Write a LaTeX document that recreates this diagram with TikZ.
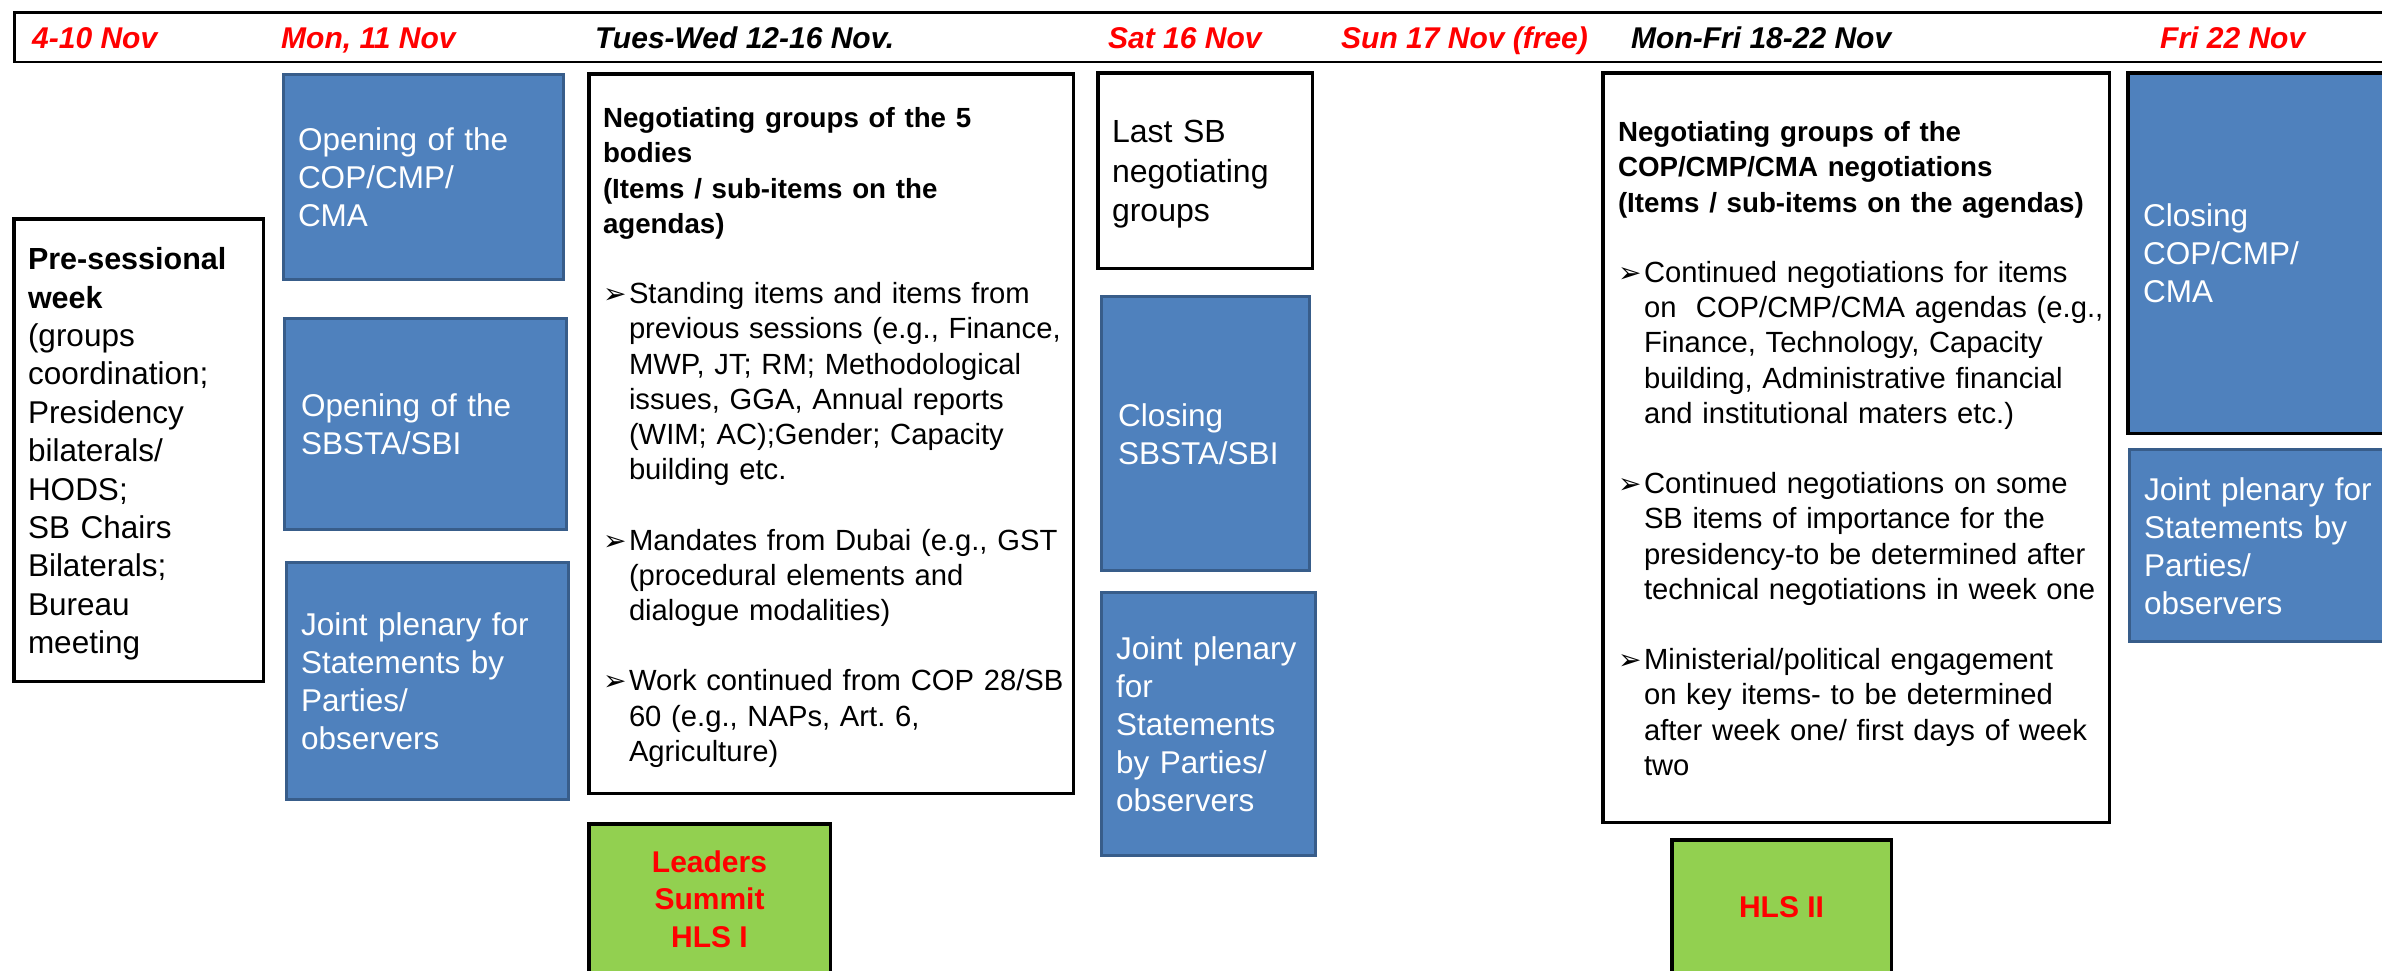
\documentclass[tikz,border=0pt]{standalone}
\usepackage{fontspec}
\setmainfont{Liberation Sans}
\newfontfamily\dejavu{DejaVu Sans}
\definecolor{bluefill}{HTML}{4F81BD}
\definecolor{bluedraw}{HTML}{385D8A}
\definecolor{greenfill}{HTML}{92D050}
\definecolor{redtext}{HTML}{FF0000}
\frenchspacing
\newcommand{\bul}{\makebox[26pt][l]{{\dejavu\fontsize{28}{28}\selectfont ➢}}}
\newcommand{\blankline}{\par\noindent\strut\par}
\newcommand{\bitem}{\par\hangindent=26pt\hangafter=1\noindent\bul}
\newcommand{\nobrk}{\rightskip=0pt plus 1fil minus 100pt\relax\hyphenpenalty=10000\relax\exhyphenpenalty=10000\relax}
\newcommand{\topstrut}{\vrule height\dimexpr.7\baselineskip+8pt\relax depth 0pt width 0pt}
\begin{document}
\begin{tikzpicture}[x=1pt,y=-1pt,
  wbox/.style={draw=black,line width=3.5pt,fill=white,inner ysep=0pt,align=left},
  bbox/.style={draw=bluedraw,line width=3pt,fill=bluefill,text=white,inner ysep=0pt,align=left,
    font=\fontsize{31.5}{38}\selectfont},
  gbox/.style={draw=black,line width=3.5pt,fill=greenfill,text=redtext,align=center,
    font=\fontsize{30}{37.5}\selectfont\bfseries},
  hdr/.style={anchor=base west,inner sep=0pt,font=\fontsize{30}{36}\selectfont\bfseries\itshape},
  ]
\useasboundingbox (0,0) rectangle (2382,970);
\clip (0,0) rectangle (2382,970);
\fill[white] (0,0) rectangle (2382,970);

% header bar
\node[draw=black,line width=2.5pt,minimum width=2420pt,minimum height=49.5pt,
      anchor=north west,inner sep=0pt] (header) at (13.25,11.25) {};
\node[hdr,text=redtext] (h1) at (32,48) {4-10 Nov};
\node[hdr,text=redtext] (h2) at (281,48) {Mon, 11 Nov};
\node[hdr,text=black]   (h3) at (595,48) {Tues-Wed 12-16 Nov.};
\node[hdr,text=redtext] (h4) at (1108,48) {Sat 16 Nov};
\node[hdr,text=redtext] (h5) at (1341,48) {Sun 17 Nov (free)};
\node[hdr,text=black]   (h6) at (1631,48) {Mon-Fri 18-22 Nov};
\node[hdr,text=redtext] (h7) at (2160,48) {Fri 22 Nov};

% pre-sessional week
\node[wbox,minimum width=249.5pt,minimum height=462.5pt,inner xsep=14.25pt,text width=221pt,
      font=\fontsize{31.5}{38.4}\selectfont] (pre) at (138.5,450)
 {\nobrk\noindent{\fontsize{30.5}{38.4}\selectfont\bfseries\topstrut Pre-sessional\newline week}\newline
  (groups\newline coordination;\newline Presidency\newline bilaterals/\newline HODS;\newline
  SB Chairs\newline Bilaterals;\newline Bureau\newline meeting\strut\par};

% Monday column
\node[bbox,minimum width=280pt,minimum height=205pt,inner xsep=14.5pt,text width=251pt] (opencop) at (423.5,177)
 {\nobrk\topstrut Opening of the\newline COP/CMP/\newline CMA\strut\par};
\node[bbox,minimum width=282pt,minimum height=211pt,inner xsep=16.5pt,text width=249pt] (opensb) at (425.5,424)
 {\nobrk\topstrut Opening of the\newline SBSTA/SBI\strut\par};
\node[bbox,minimum width=282pt,minimum height=237pt,inner xsep=14.5pt,text width=253pt] (jpmon) at (427.5,681)
 {\nobrk\topstrut Joint plenary for\newline Statements by\newline Parties/\newline observers\strut\par};

% Tues-Wed column
\node[wbox,minimum width=484.5pt,minimum height=719.5pt,inner xsep=14.25pt,text width=456pt,
      font=\fontsize{29.2}{35.2}\selectfont] (neg5) at (831,433.5)
 {\nobrk\noindent{\fontsize{27.7}{35.2}\selectfont\bfseries\topstrut Negotiating groups of the 5\newline bodies\newline
  (Items / sub-items on the\newline agendas)}\blankline
  \bitem Standing items and items from\newline previous sessions (e.g., Finance,\newline
  MWP, JT; RM; Methodological\newline issues, GGA, Annual reports\newline
  (WIM; AC);Gender; Capacity\newline building etc.\blankline
  \bitem Mandates from Dubai (e.g., GST\newline (procedural elements and\newline dialogue modalities)\blankline
  \bitem Work continued from COP 28/SB\newline 60 (e.g., NAPs, Art. 6,\newline Agriculture)\strut\par};
\node[gbox,minimum width=241.5pt,minimum height=150.5pt] (hls1) at (709.5,899)
 {Leaders\\Summit\\HLS I};

% Saturday column
\node[wbox,minimum width=214.5pt,minimum height=195.5pt,inner xsep=14.25pt,text width=186pt,
      font=\fontsize{32}{39.5}\selectfont] (lastsb) at (1205,170.5)
 {\nobrk\topstrut Last SB\newline negotiating\newline groups\strut\par};
\node[bbox,minimum width=208pt,minimum height=274pt,inner xsep=16.5pt,text width=175pt] (closesb) at (1205.5,433.5)
 {\nobrk\topstrut Closing\newline SBSTA/SBI\strut\par};
\node[bbox,minimum width=214pt,minimum height=263pt,inner xsep=14.5pt,text width=185pt] (jpsat) at (1208.5,724)
 {\nobrk\topstrut Joint plenary\newline for\newline Statements\newline by Parties/\newline observers\strut\par};

% Mon-Fri column
\node[wbox,minimum width=506.5pt,minimum height=749.5pt,inner xsep=15.25pt,text width=476pt,
      font=\fontsize{29.2}{35.2}\selectfont] (negcop) at (1856,447.5)
 {\nobrk\noindent{\fontsize{27.7}{35.2}\selectfont\bfseries\topstrut Negotiating groups of the\newline
  COP/CMP/CMA negotiations\newline (Items / sub-items on the agendas)}\blankline
  \bitem Continued negotiations for items\newline on\ \ COP/CMP/CMA agendas (e.g.,\newline
  Finance, Technology, Capacity\newline building, Administrative financial\newline
  and institutional maters etc.)\blankline
  \bitem Continued negotiations on some\newline SB items of importance for the\newline
  presidency-to be determined after\newline technical negotiations in week one\blankline
  \bitem Ministerial/political engagement\newline on key items- to be determined\newline
  after week one/ first days of week\newline two\strut\par};
\node[gbox,minimum width=219.5pt,minimum height=134.5pt] (hls2) at (1781.5,907) {HLS II};

% Friday column
\node[bbox,draw=black,line width=3.5pt,minimum width=290.5pt,minimum height=360.5pt,inner xsep=15.25pt,text width=260pt] (closecop) at (2273,253)
 {\nobrk\topstrut Closing\newline COP/CMP/\newline CMA\strut\par};
\node[bbox,minimum width=289pt,minimum height=192pt,inner xsep=14.5pt,text width=260pt] (jpfri) at (2274,545.5)
 {\nobrk\topstrut Joint plenary for\newline Statements by\newline Parties/\newline observers\strut\par};
\end{tikzpicture}
\end{document}
